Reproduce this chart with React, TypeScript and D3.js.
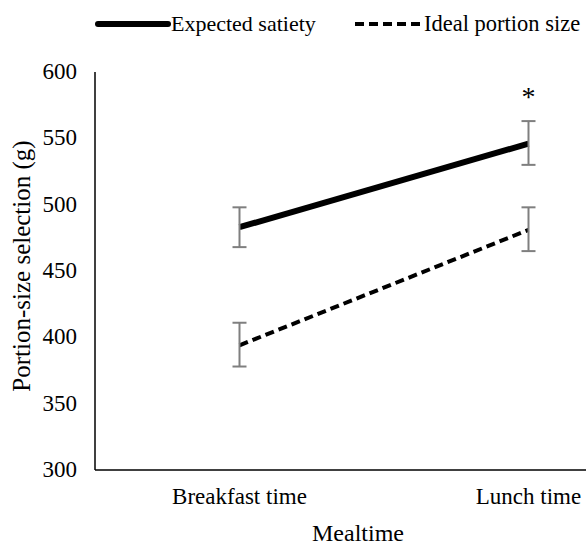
import React from 'react';
import * as d3 from 'd3';

const categories = ['Breakfast time', 'Lunch time'];
const satietyMean = [483, 546];
const satietyLow = [468, 530];
const satietyHigh = [498, 563];
const idealMean = [394, 481];
const idealLow = [378, 465];
const idealHigh = [411, 498];
const yTicks = [300, 350, 400, 450, 500, 550, 600];

const width = 586;
const height = 545;
const margin = { top: 72, left: 95 };
const plotBottom = 470;
const font = '"Liberation Serif", "Times New Roman", serif';

const App = () => {
  const x = d3.scaleBand().domain(categories).range([margin.left, margin.left + 578]);
  const y = d3.scaleLinear().domain([300, 600]).range([plotBottom, margin.top]);
  const cx = (c: string) => (x(c) as number) + x.bandwidth() / 2;

  const line = d3.line<number>()
    .x((_, i) => cx(categories[i]))
    .y(d => y(d));

  const series = [
    { name: 'Expected satiety', mean: satietyMean, low: satietyLow, high: satietyHigh, dash: undefined, w: 6 },
    { name: 'Ideal portion size', mean: idealMean, low: idealLow, high: idealHigh, dash: '9,5', w: 4 },
  ];

  return (
    <svg width={width} height={height} style={{ position: 'absolute', left: 0, top: 0 }} fontFamily={font}>
      <rect width={width} height={height} fill="#fff" />
      {/* legend */}
      <line x1={98} x2={168} y1={24} y2={24} stroke="#000" strokeWidth={6} strokeLinecap="round" />
      <text x={171} y={31} fontSize={22}>Expected satiety</text>
      <line x1={355} x2={420} y1={24} y2={24} stroke="#000" strokeWidth={4} strokeDasharray="9,5" />
      <text x={424} y={31} fontSize={22.5}>Ideal portion size</text>

      {/* axes */}
      <line x1={margin.left} x2={margin.left} y1={margin.top} y2={plotBottom} stroke="#000" strokeWidth={1.5} />
      <line x1={margin.left} x2={width} y1={plotBottom} y2={plotBottom} stroke="#000" strokeWidth={1.5} />
      {yTicks.map(t => (
        <text key={t} x={77} y={y(t) + 7} fontSize={23} textAnchor="end">{t}</text>
      ))}
      {categories.map(c => (
        <text key={c} x={cx(c)} y={504} fontSize={23} textAnchor="middle">{c}</text>
      ))}
      <text x={358} y={541} fontSize={24} textAnchor="middle">Mealtime</text>
      <text transform={`translate(30,266) rotate(-90)`} fontSize={25} textAnchor="middle">
        Portion-size selection (g)
      </text>

      {/* series */}
      {series.map(s => (
        <g key={s.name}>
          <path d={line(s.mean) || ''} fill="none" stroke="#000" strokeWidth={s.w} strokeDasharray={s.dash} />
          {categories.map((c, i) => (
            <g key={c} stroke="#7f7f7f" strokeWidth={2}>
              <line x1={cx(c)} x2={cx(c)} y1={y(s.low[i])} y2={y(s.high[i])} />
              <line x1={cx(c) - 7} x2={cx(c) + 7} y1={y(s.low[i])} y2={y(s.low[i])} />
              <line x1={cx(c) - 7} x2={cx(c) + 7} y1={y(s.high[i])} y2={y(s.high[i])} />
            </g>
          ))}
        </g>
      ))}
      <text x={cx('Lunch time')} y={106} fontSize={28} textAnchor="middle">*</text>
    </svg>
  );
};

export default App;
